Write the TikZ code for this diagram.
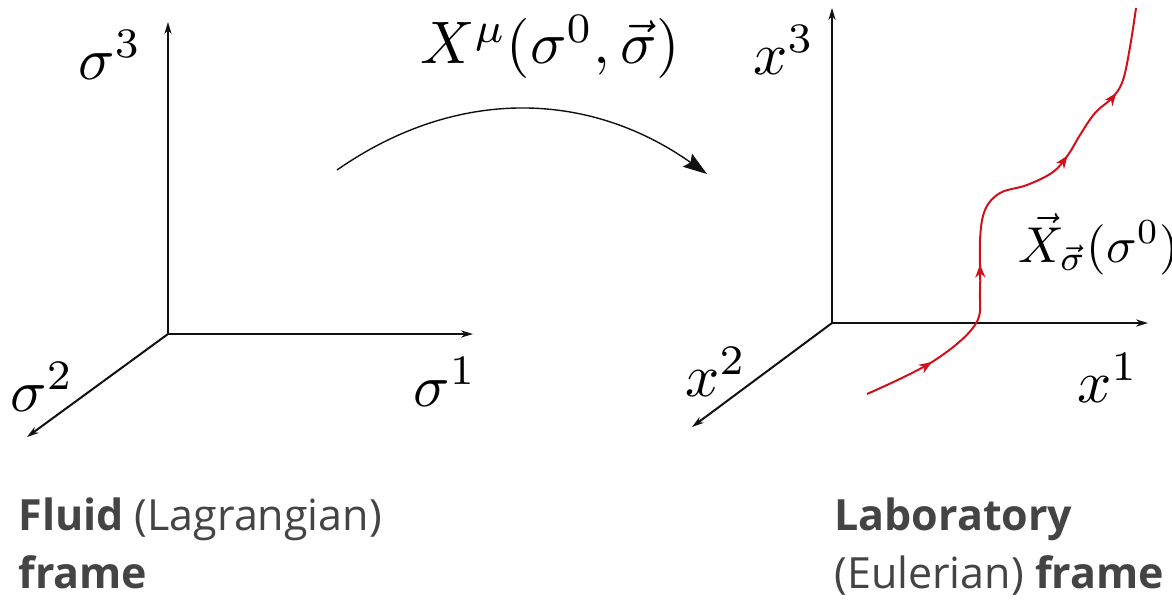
\documentclass[tikz,border=0pt]{standalone}
\usepackage{fontspec}
\usepackage{tikz}
\usetikzlibrary{arrows.meta,positioning,decorations.markings}
\newfontfamily\capfont{Open Sans}
\definecolor{FrameInk}{HTML}{111111}
\definecolor{FrameRed}{HTML}{D0101A}
\definecolor{FrameGray}{HTML}{444444}

\begin{document}
\begin{tikzpicture}[
    x=0.5pt, y=-0.5pt,
    axis/.style={-{Stealth[length=6pt,width=3.6pt]}, line width=1pt, draw=FrameInk},
    maparrow/.style={-{Stealth[length=12pt,width=8pt,inset=2pt]}, line width=0.7pt, draw=FrameInk},
    lbl/.style={inner sep=0pt, scale=3},
    caption/.style={inner sep=0pt, align=left, text=FrameGray,
      font=\capfont\fontsize{21.5}{29}\selectfont},
    path/.style={line width=1pt, draw=FrameRed,
      postaction={decorate, decoration={markings,
        mark=at position 0.14 with {\arrow{Stealth[length=6.5pt,width=5pt]}},
        mark=at position 0.37 with {\arrow{Stealth[length=6.5pt,width=5pt]}},
        mark=at position 0.675 with {\arrow{Stealth[length=6.5pt,width=5pt]}},
        mark=at position 0.83 with {\arrow{Stealth[length=6.5pt,width=5pt]}}}}}
  ]
    \useasboundingbox (0,0) rectangle (1172,606);
    % fluid frame
    \coordinate (o1) at (168,334);
    \draw[axis] (o1) -- (168,22) coordinate (s3);
    \draw[axis] (o1) -- (473,334) coordinate (s1);
    \draw[axis] (o1) -- (27,437) coordinate (s2);
    \node[lbl] (lsig3) at (110,55) {$\sigma^3$};
    \node[lbl] (lsig1) at (445,382) {$\sigma^1$};
    \node[lbl] (lsig2) at (42,387) {$\sigma^2$};
    % map
    \coordinate (mapstart) at (337,170);
    \coordinate (mapend) at (707,174);
    \draw[maparrow] (mapstart) .. controls (456,87) and (588,90) .. (mapend);
    \node[lbl] (lmap) at (550,47) {$X^\mu(\sigma^0,\vec{\sigma})$};
    % laboratory frame
    \coordinate (o2) at (832,323);
    \draw[axis] (o2) -- (832,8) coordinate (x3);
    \draw[axis] (o2) -- (1148,323) coordinate (x1);
    \draw[axis] (o2) -- (692,427) coordinate (x2);
    \node[lbl] (lx3) at (784,50) {$x^3$};
    \node[lbl] (lx1) at (1108,378) {$x^1$};
    \node[lbl] (lx2) at (716,372) {$x^2$};
    \draw[path] plot[smooth, tension=0.6] coordinates {(867,394) (932,362) (975,325)
      (980,290) (980,240) (985,210) (1000,193) (1027,185) (1053,172) (1068,155)
      (1080,135) (1095,113) (1113,97) (1123,80) (1130,47) (1136,8)};
    \node[lbl, scale=0.84, anchor=base west] (ltraj) at (1017,262) {$\vec{X}_{\vec{\sigma}}(\sigma^0)$};
    % captions
    \node[caption, anchor=north west] (fluidcap) at (18,497)
      {\textbf{Fluid} (Lagrangian)\\\textbf{frame}};
    \node[caption, anchor=north west] (labcap) at (834,497)
      {\textbf{Laboratory}\\(Eulerian) \textbf{frame}};
\end{tikzpicture}
\end{document}
